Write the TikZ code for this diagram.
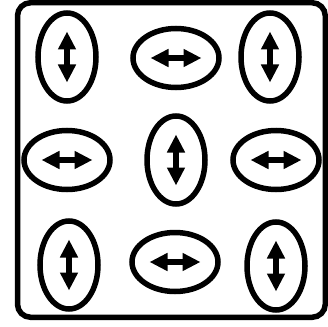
\documentclass[tikz,border=0pt]{standalone}
\usepackage{tikz}
\usetikzlibrary{arrows.meta, shapes.geometric}

\begin{document}
\begin{tikzpicture}[x=1pt, y=-1pt, >={Triangle[length=18pt, width=17pt]},
    vring/.style={draw, ellipse, line width=5.5pt, minimum width=58pt, minimum height=88pt, inner sep=0pt},
    hring/.style={draw, ellipse, line width=5.5pt, minimum width=86pt, minimum height=59pt, inner sep=0pt},
    dbl/.style={line width=5.5pt, <->}]
    \useasboundingbox (0, 0) rectangle (328, 326);

    \pgfmathsetmacro{\alen}{25.5}

    % outer frame
    \draw[line width=5.5pt, rounded corners=13pt] (17.5, 2.75) rectangle (325.25, 317.25);

    % upright rings
    \foreach \nm/\px/\py in {tl/67/57, tr/270/57, mid/176/160, bl/69/265, br/276/266} {
        \node[vring] (\nm) at (\px, \py) {};
        \draw[dbl] ([yshift=-\alen pt]\nm.center) -- ([yshift=\alen pt]\nm.center);
    }

    % lying rings
    \foreach \nm/\px/\py in {tm/176/58, ml/67/160, mr/276/160, bm/175/262} {
        \node[hring] (\nm) at (\px, \py) {};
        \draw[dbl] ([xshift=-\alen pt]\nm.center) -- ([xshift=\alen pt]\nm.center);
    }

\end{tikzpicture}
\end{document}
